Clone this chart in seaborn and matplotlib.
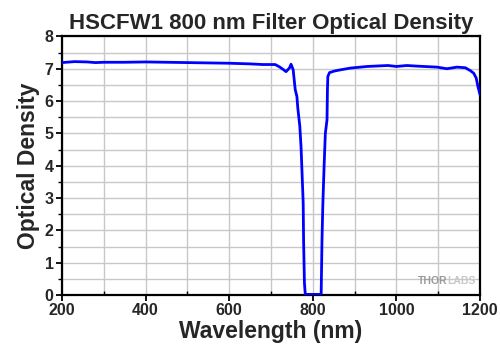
import matplotlib
matplotlib.use("Agg")
import matplotlib.pyplot as plt
import seaborn as sns
import pandas as pd
from matplotlib.ticker import MultipleLocator

wavelength = [200, 230, 260, 280, 300, 350, 400, 450, 500, 550, 600, 650, 680, 700, 710,
              720, 730, 736, 744, 748, 753, 758, 762, 764, 769, 772, 774, 777, 778, 780,
              782, 800, 820, 822, 824, 827, 830, 834, 835, 836, 840, 852, 868, 890, 930,
              980, 1000, 1025, 1050, 1097, 1121, 1145, 1165, 1177, 1185, 1191, 1195, 1198, 1200]
optical_density = [7.19, 7.22, 7.21, 7.19, 7.2, 7.2, 7.21, 7.2, 7.19, 7.18, 7.17, 7.15, 7.13, 7.13, 7.13,
                   7.06, 6.97, 6.91, 7.02, 7.14, 6.97, 6.35, 6.14, 5.8, 5.21, 4.55, 3.87, 2.85, 1.65, 0.37,
                   0.02, 0.02, 0.02, 1.7, 2.79, 3.97, 5.0, 5.42, 6.35, 6.76, 6.88, 6.93, 6.97, 7.02, 7.07,
                   7.1, 7.07, 7.1, 7.08, 7.05, 7.0, 7.05, 7.03, 6.94, 6.86, 6.71, 6.45, 6.3, 6.2]

title = "HSCFW1 800 nm Filter Optical Density"
xlabel = "Wavelength (nm)"
ylabel = "Optical Density"

df = pd.DataFrame({"Wavelength": wavelength, "OD": optical_density})

sns.set_theme(style="white")
plt.rcParams["font.family"] = ["Liberation Sans", "DejaVu Sans"]
plt.rcParams["font.weight"] = "bold"

fig = plt.figure(figsize=(5, 3.5), dpi=100)
ax = fig.add_axes([0.124, 0.157, 0.836, 0.739])

sns.lineplot(data=df, x="Wavelength", y="OD", ax=ax, color="#0000ff", linewidth=2, zorder=3)

ax.set_xlim(200, 1200)
ax.set_ylim(0, 8)
ax.xaxis.set_major_locator(MultipleLocator(200))
ax.xaxis.set_minor_locator(MultipleLocator(100))
ax.yaxis.set_major_locator(MultipleLocator(1))
ax.yaxis.set_minor_locator(MultipleLocator(0.5))

ax.grid(True, which="both", color="#c8c8c8", linewidth=1, zorder=0)
ax.set_axisbelow(True)

for s in ax.spines.values():
    s.set_color("black")
    s.set_linewidth(1.6)
    s.set_visible(True)

ax.tick_params(axis="both", which="major", direction="out", length=4, width=1.3,
               color="black", labelsize=11.5, pad=2, bottom=True, left=True)
ax.tick_params(axis="x", which="minor", direction="in", length=3, width=1, color="black", bottom=True)
ax.tick_params(axis="y", which="minor", direction="out", length=3, width=1, color="black", left=True)
for lab in ax.get_xticklabels() + ax.get_yticklabels():
    lab.set_fontweight("bold")

ax.set_title(title, fontsize=16, fontweight="bold", pad=5)
ax.set_xlabel(xlabel, fontsize=16.5, fontweight="bold", labelpad=1)
ax.set_ylabel(ylabel, fontsize=16.5, fontweight="bold", labelpad=3)

ax.text(0.921, 0.054, "THOR", transform=ax.transAxes, ha="right", va="center",
        fontsize=7.5, fontweight="bold", color="#9a9a9a", zorder=4)
ax.text(0.921, 0.054, "LABS", transform=ax.transAxes, ha="left", va="center",
        fontsize=7.5, fontweight="bold", color="#c8c8c8", zorder=4)

fig.savefig("out.png", dpi=100)
